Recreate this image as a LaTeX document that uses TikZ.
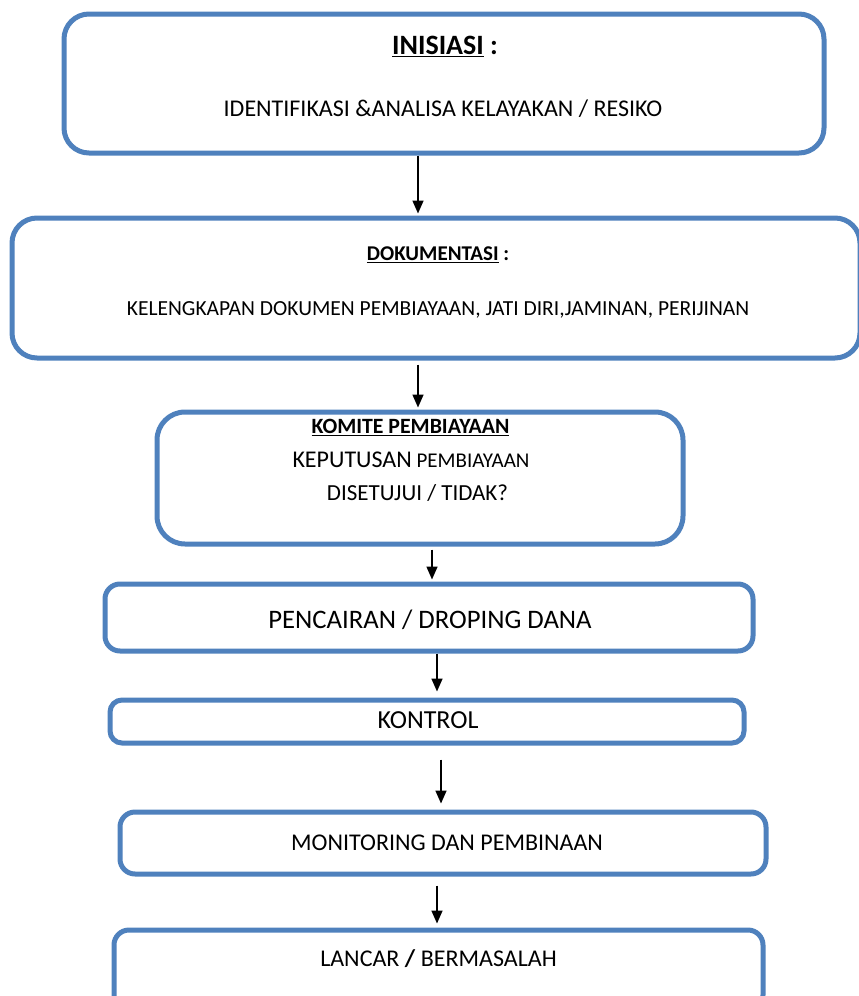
\documentclass[tikz,border=0pt]{standalone}
\usepackage{fontspec}
\setmainfont{Carlito}
\usetikzlibrary{arrows.meta}
\definecolor{boxblue}{RGB}{79,129,189}

\begin{document}
\begin{tikzpicture}[
  x=1pt, y=-1pt,
  box/.style={draw=boxblue, line width=5pt, fill=white, rounded corners=#1, inner sep=0pt},
  box/.default=15pt,
  txt/.style={anchor=base, inner sep=0pt, font=\fontsize{#1}{#1}\selectfont},
  arrow/.style={-{Triangle[length=13pt,width=11pt]}, line width=1.6pt}
]
\useasboundingbox (0,0) rectangle (859,996);
\clip (0,0) rectangle (859,996);

% Boxes
\node[box=25pt, minimum width=760, minimum height=139] (b1) at (444,83.5) {};
\node[box=25pt, minimum width=848, minimum height=140] (b2) at (436,288) {};
\node[box=28pt, minimum width=526, minimum height=132] (b3) at (420,478) {};
\node[box, minimum width=648, minimum height=67] (b4) at (429,617.5) {};
\node[box=12pt, minimum width=634, minimum height=43] (b5) at (427,721.5) {};
\node[box, minimum width=646, minimum height=62] (b6) at (443,843) {};
\node[box, minimum width=649, minimum height=80] (b7) at (438.5,970) {};

% Texts
\node[txt=28] (t1a) at (445,54.5) {\textbf{\underline{INISIASI}} \textbf{:}};
\node[txt=24] (t1b) at (443,116) {IDENTIFIKASI \&ANALISA KELAYAKAN / RESIKO};
\node[txt=21] (t2a) at (438,260.5) {\textbf{\underline{DOKUMENTASI}} \textbf{:}};
\node[txt=21.5] (t2b) at (438,315) {KELENGKAPAN DOKUMEN PEMBIAYAAN, JATI DIRI,JAMINAN, PERIJINAN};
\node[txt=21.8] (t3a) at (410.5,433.3) {\textbf{\underline{KOMITE PEMBIAYAAN}}};
\node[txt=21] (t3b) at (411,467) {{\fontsize{24}{24}\selectfont KEPUTUSAN} PEMBIAYAAN};
\node[txt=23] (t3c) at (417.5,500) {DISETUJUI / TIDAK?};
\node[txt=26.7] (t4) at (430,628.5) {PENCAIRAN / DROPING DANA};
\node[txt=26] (t5) at (428,728) {KONTROL};
\node[txt=24] (t6) at (447,850) {MONITORING DAN PEMBINAAN};
\node[txt=24] (t7) at (438.5,966.5) {LANCAR \textbf{/} BERMASALAH};

% Connectors
\draw[arrow, shorten >=2pt] ([xshift=-26]b1.south) -- ([xshift=-18]b2.north);
\draw[arrow, shorten <=4pt, shorten >=2pt] ([xshift=-18]b2.south) -- ([xshift=-2]b3.north);
\draw[arrow, shorten <=3pt, shorten >=2pt] ([xshift=12]b3.south) -- ([xshift=3]b4.north);
\draw[arrow, shorten >=6pt] ([xshift=8]b4.south) -- ([xshift=10]b5.north);
\draw[arrow, shorten <=14pt, shorten >=6pt] ([xshift=14]b5.south) -- ([xshift=-2]b6.north);
\draw[arrow, shorten <=9pt, shorten >=4pt] ([xshift=-6]b6.south) -- ([xshift=-1.5]b7.north);
\end{tikzpicture}
\end{document}
